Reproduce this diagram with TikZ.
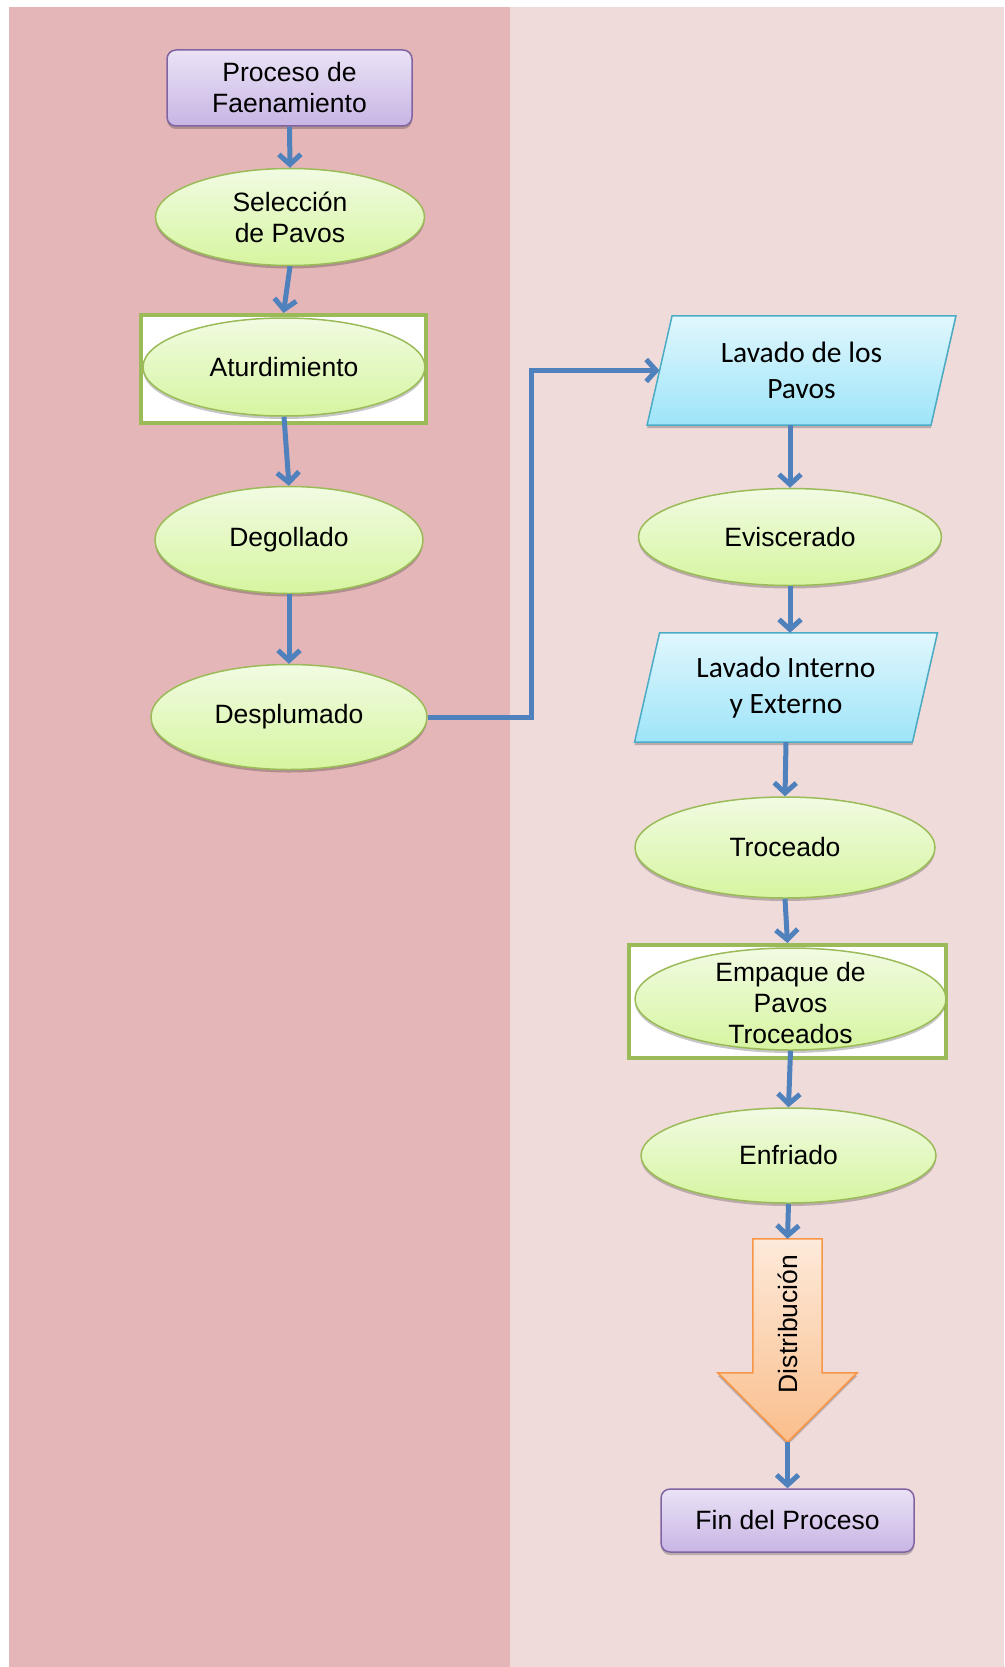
\documentclass[tikz,border=0pt]{standalone}
\usepackage{fontspec}
\setmainfont{Liberation Sans}
\newfontfamily\calib{Carlito}
\usetikzlibrary{shapes.geometric,arrows.meta,shadows,calc}
\definecolor{leftbg}{RGB}{228,182,183}
\definecolor{rightbg}{RGB}{240,219,219}
\definecolor{elltop}{RGB}{241,251,226}
\definecolor{ellbot}{RGB}{214,245,160}
\definecolor{elldraw}{RGB}{155,187,89}
\definecolor{purtop}{RGB}{234,226,246}
\definecolor{purbot}{RGB}{200,181,228}
\definecolor{purdraw}{RGB}{128,100,162}
\definecolor{cyantop}{RGB}{224,247,253}
\definecolor{cyanbot}{RGB}{158,228,249}
\definecolor{cyandraw}{RGB}{75,172,198}
\definecolor{orgtop}{RGB}{253,234,218}
\definecolor{orgbot}{RGB}{250,190,140}
\definecolor{orgdraw}{RGB}{247,150,70}
\definecolor{connblue}{RGB}{79,129,189}
\pgfdeclarelayer{back}
\pgfdeclarelayer{mid}
\pgfsetlayers{back,mid,main}
\tikzset{
  shad/.style={drop shadow={shadow xshift=0pt, shadow yshift=-3pt, opacity=0.22, fill=black}},
  ell/.style={ellipse, draw=elldraw, line width=1.5pt, top color=elltop, bottom color=ellbot, inner sep=0pt, align=center, shad},
  procbox/.style={rectangle, rounded corners=9pt, draw=purdraw, line width=1.5pt, top color=purtop, bottom color=purbot, inner sep=0pt, align=center, shad},
  greenframe/.style={rectangle, draw=elldraw, line width=4pt, fill=white, inner sep=0pt},
  paratext/.style={font=\calib\fontsize{29.5pt}{36pt}\selectfont, align=center, inner sep=0pt},
  para/.style={draw=cyandraw, line width=1.5pt, top color=cyantop, bottom color=cyanbot, shad},
  bigarrow/.style={draw=orgdraw, line width=1.5pt, top color=orgtop, bottom color=orgbot, shad},
  flow/.style={draw=connblue, line width=5pt, -{Straight Barb[length=10pt,width=22pt]}}
}
\begin{document}
\begin{tikzpicture}[x=1pt, y=-1pt, font=\fontsize{26.5pt}{31pt}\selectfont]
\useasboundingbox (0,0) rectangle (1004,1667);
\begin{pgfonlayer}{back}
  \fill[white] (0,0) rectangle (1004,1667);
  \fill[leftbg] (9,7) rectangle (510,1667);
  \fill[rightbg] (510,7) rectangle (1004,1667);
\end{pgfonlayer}

% left column
\node[procbox, minimum width=245pt, minimum height=76pt] (proc) at (289.5,88) {Proceso de\\Faenamiento};
\node[ell, minimum width=269pt, minimum height=97pt] (sel) at (290,217) {Selección\\de Pavos};
\node[greenframe, minimum width=285pt, minimum height=108pt] (atr) at (283.5,369) {};
\node[ell, minimum width=282pt, minimum height=98pt] (ate) at (284,367) {Aturdimiento};
\node[ell, minimum width=268pt, minimum height=107pt] (deg) at (289,540) {Degollado};
\node[ell, minimum width=276pt, minimum height=105pt] (des) at (289,717) {Desplumado};

% right column
\node[paratext, minimum width=283.5pt, minimum height=109pt] (lav) at (801.5,370.5) {Lavado de los\\Pavos};
\node[ell, minimum width=303pt, minimum height=97pt] (evi) at (790,537) {Eviscerado};
\node[paratext, minimum width=277.5pt, minimum height=109pt] (lin) at (786,687.5) {Lavado Interno\\y Externo};
\node[ell, minimum width=300pt, minimum height=101pt] (tro) at (785,847.5) {Troceado};
\node[greenframe, minimum width=317pt, minimum height=113pt] (empr) at (787.5,1001.5) {};
\node[ell, minimum width=311pt, minimum height=102pt,
      label={[align=center, yshift=-4pt]center:Empaque de\\Pavos\\Troceados}] (emp) at (790.5,999) {};
\node[ell, minimum width=295pt, minimum height=95pt] (enf) at (788.5,1155.5) {Enfriado};
\node[minimum width=69pt, minimum height=203pt, inner sep=0pt] (dist) at (787.5,1340.5) {};
\node[rotate=90, inner sep=0pt] (distt) at (788,1324) {Distribución};
\node[procbox, minimum width=253pt, minimum height=63pt] (fin) at (787.5,1520.5) {Fin del Proceso};

\begin{pgfonlayer}{mid}
  \shadedraw[para] ([xshift=-12.5pt]lav.south west) -- ([xshift=-12.5pt]lav.south east)
      -- ([xshift=12.5pt]lav.north east) -- ([xshift=12.5pt]lav.north west) -- cycle;
  \shadedraw[para] ([xshift=-12.5pt]lin.south west) -- ([xshift=-12.5pt]lin.south east)
      -- ([xshift=12.5pt]lin.north east) -- ([xshift=12.5pt]lin.north west) -- cycle;
  \shadedraw[bigarrow] (dist.north west) -- (dist.north east) -- ++(0,134) -- ++(35,0)
      -- (dist.south) -- ($(dist.north west)+(-35,134)$) -- ++(35,0) -- cycle;
\end{pgfonlayer}

% connectors
\coordinate (bend) at (531,717);
\draw[flow] (proc.south) -- (sel.north);
\draw[flow] (sel.south) -- (atr.north);
\draw[flow] (ate.south) -- (deg.north);
\draw[flow] (deg.south) -- (des.north);
\draw[flow] (des.east) -- (bend) |- (lav.west);
\draw[flow] (evi.north |- lav.south) -- (evi.north);
\draw[flow] (evi.south) -- (evi.south |- lin.north);
\draw[flow] (lin.south) -- (tro.north);
\draw[flow] (tro.south) -- (empr.north);
\draw[flow] (emp.south) -- (enf.north);
\draw[flow] (enf.south) -- (dist.north);
\draw[flow] (dist.south) -- (fin.north);
\end{tikzpicture}
\end{document}
